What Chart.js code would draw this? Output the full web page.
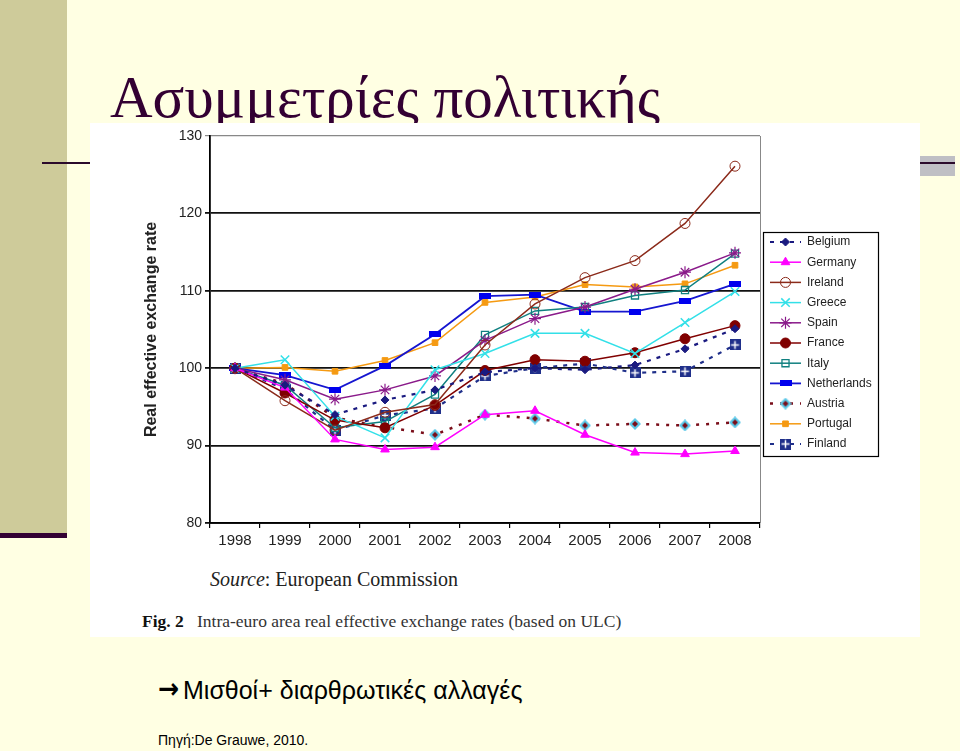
<!DOCTYPE html>
<html>
<head>
<meta charset="utf-8">
<script src="https://cdn.jsdelivr.net/npm/chart.js@4.4.1/dist/chart.umd.min.js"></script>
<style>
  body { margin: 0; background: #FFFFE3; }
  #slide { position: relative; width: 960px; height: 751px; overflow: hidden; background: #FFFFE3; }
  .abs { position: absolute; }
  #bar { left: 0; top: 0; width: 67px; height: 533px; background: #CECB9A; }
  #barline { left: 0; top: 533px; width: 67px; height: 5px; background: #330033; }
  #greybox { left: 920px; top: 156px; width: 35px; height: 20px; background: #BFBFC4; }
  #rule { left: 42px; top: 162px; width: 913px; height: 2px; background: #2B0A2B; }
  #title { left: 110px; top: 68px; margin: 0; font: 59px/1 "Liberation Serif", "Times New Roman", serif; color: #330033; font-weight: normal; white-space: nowrap; }
  #paper { left: 90px; top: 123px; width: 830px; height: 514px; background: #fff; }
  #chartBox { position: absolute; left: 0; top: 0; width: 830px; height: 440px; }
  #source { left: 120px; top: 446px; font: 20px/1 "Liberation Serif", serif; color: #222; white-space: nowrap; }
  #fig { left: 52px; top: 490px; font: 17.5px/1 "Liberation Serif", serif; color: #333; white-space: nowrap; }
  #note { left: 183px; top: 678px; font: 25px/1 "Liberation Sans", Arial, sans-serif; color: #000; white-space: nowrap; }
  #arrow { left: 158px; top: 675px; width: 25px; font: bold 28px/1 "DejaVu Sans", sans-serif; color: #000; transform: scaleX(0.9); transform-origin: left center; }
  #ref { left: 158px; top: 733px; font: 14px/1 "Liberation Sans", Arial, sans-serif; color: #000; white-space: nowrap; }
</style>
</head>
<body>
<div id="slide">
  <div id="bar" class="abs"></div>
  <div id="barline" class="abs"></div>
  <div id="greybox" class="abs"></div>
  <div id="rule" class="abs"></div>
  <h1 id="title" class="abs">Ασυμμετρίες πολιτικής</h1>
  <div id="paper" class="abs">
    <div id="chartBox"><canvas id="myChart" width="830" height="440"></canvas></div>
    <div id="source" class="abs"><i>Source</i>: European Commission</div>
    <div id="fig" class="abs"><b style="color:#111">Fig. 2</b>&nbsp;&nbsp; Intra-euro area real effective exchange rates (based on ULC)</div>
  </div>
  <div id="arrow" class="abs">→</div>
  <div id="note" class="abs">Μισθοί+ διαρθρωτικές αλλαγές</div>
  <div id="ref" class="abs">Πηγή:De Grauwe, 2010.</div>
</div>

<script>
const years = ['1998', '1999', '2000', '2001', '2002', '2003', '2004', '2005', '2006', '2007', '2008'];

const belgium     = [100, 97.8, 94.0, 95.9, 97.2, 99.5, 100.0, 99.8, 100.4, 102.5, 105.1];
const germany     = [100, 97.5, 90.8, 89.5, 89.8, 94.0, 94.5, 91.4, 89.1, 88.9, 89.3];
const ireland     = [100, 95.8, 92.0, 94.3, 95.3, 103.0, 108.3, 111.7, 113.9, 118.7, 126.1];
const greece      = [100, 101.1, 93.8, 91.0, 99.8, 101.9, 104.5, 104.5, 101.9, 105.9, 109.9];
const spain       = [100, 98.5, 96.0, 97.2, 99.0, 103.6, 106.4, 107.9, 110.2, 112.4, 114.9];
const france      = [100, 96.8, 93.3, 92.3, 95.2, 99.7, 101.1, 100.9, 102.0, 103.8, 105.5];
const italy       = [100, 97.8, 92.3, 93.1, 96.6, 104.3, 107.4, 107.9, 109.4, 110.1, 114.8];
const netherlands = [100, 99.1, 97.2, 100.3, 104.4, 109.3, 109.5, 107.3, 107.3, 108.7, 110.9];
const austria     = [100, 98.0, 93.6, 92.4, 91.4, 94.0, 93.5, 92.6, 92.8, 92.6, 93.0];
const portugal    = [100, 100.1, 99.6, 101.0, 103.3, 108.5, 109.2, 110.8, 110.5, 110.9, 113.3];
const finland     = [100, 97.3, 92.0, 93.9, 94.8, 99.0, 100.0, 100.6, 99.4, 99.6, 103.0];

const yTicks = [80, 90, 100, 110, 120, 130];

// small marker images for the styles Chart.js does not have
function makeMarker(w, h, draw) {
    const c = document.createElement('canvas');
    c.width = w; c.height = h;
    draw(c.getContext('2d'), w, h);
    return c;
}

const dashMarker = makeMarker(12, 6, (g, w, h) => {
    g.fillStyle = '#0000EE';
    g.fillRect(0, 0, w, h);
});

const crossSquare = makeMarker(11, 11, (g, w, h) => {
    g.fillStyle = '#1F2F8A';
    g.fillRect(0, 0, w, h);
    g.strokeStyle = '#fff';
    g.lineWidth = 1.5;
    g.beginPath();
    g.moveTo(w / 2, 1.5); g.lineTo(w / 2, h - 1.5);
    g.moveTo(1.5, h / 2); g.lineTo(w - 1.5, h / 2);
    g.stroke();
});

const austriaDiamond = makeMarker(12, 12, (g, w, h) => {
    g.fillStyle = '#5CC8E8';
    g.beginPath();
    g.moveTo(6, 0); g.lineTo(12, 6); g.lineTo(6, 12); g.lineTo(0, 6);
    g.closePath(); g.fill();
    g.fillStyle = '#7A0E1A';
    g.beginPath();
    g.moveTo(6, 3); g.lineTo(9, 6); g.lineTo(6, 9); g.lineTo(3, 6);
    g.closePath(); g.fill();
});

function series(label, data, color, style, extra) {
    return Object.assign({
        label: label,
        data: data,
        borderColor: color,
        backgroundColor: color,
        pointBackgroundColor: color,
        pointBorderColor: color,
        borderWidth: 1.5,
        pointStyle: style,
        pointRadius: 4,
        pointBorderWidth: 1,
        tension: 0,
        fill: false
    }, extra || {});
}

const datasets = [
    series('Belgium', belgium, '#1A1A80', 'rectRot', { borderDash: [4, 6], borderWidth: 2.2 }),
    series('Germany', germany, '#FF00FF', 'triangle', { pointRadius: 5 }),
    series('Ireland', ireland, '#8B2A1A', 'circle', { pointBackgroundColor: 'rgba(0,0,0,0)', pointRadius: 5 }),
    series('Greece', greece, '#33E0E8', 'crossRot', { pointRadius: 6, pointBorderWidth: 1.5 }),
    series('Spain', spain, '#8A1A8A', 'star', { pointRadius: 6, pointBorderWidth: 1.2 }),
    series('France', france, '#800000', 'circle', { pointRadius: 5 }),
    series('Italy', italy, '#108080', 'rect', { pointBackgroundColor: 'rgba(0,0,0,0)', pointRadius: 5, pointBorderWidth: 1.3 }),
    series('Netherlands', netherlands, '#1515D0', dashMarker, { borderWidth: 1.8 }),
    series('Austria', austria, '#7A0E1A', austriaDiamond, { borderDash: [3, 7], borderWidth: 2.5 }),
    series('Portugal', portugal, '#F59A12', 'rect', { pointRadius: 4 }),
    series('Finland', finland, '#1F2F8A', crossSquare, { borderDash: [4, 6], borderWidth: 2.2 })
];

// legend box drawn as in the original figure: line sample + marker + name
const boxLegend = {
    id: 'boxLegend',
    afterDraw(chart) {
        const ctx = chart.ctx;
        const area = chart.chartArea;
        ctx.save();
        // grey frame on the right of the plot
        ctx.strokeStyle = '#888';
        ctx.lineWidth = 1;
        ctx.beginPath();
        ctx.moveTo(area.right + 0.5, area.top);
        ctx.lineTo(area.right + 0.5, area.bottom);
        ctx.stroke();

        const bx = 673, by = 109, bw = 115, bh = 224;
        ctx.fillStyle = '#fff';
        ctx.fillRect(bx, by, bw, bh);
        ctx.strokeStyle = '#000';
        ctx.lineWidth = 1.2;
        ctx.strokeRect(bx + 0.5, by + 0.5, bw, bh);

        chart.data.datasets.forEach((ds, i) => {
            const y = by + 10 + i * 20.2;
            ctx.strokeStyle = ds.borderColor;
            ctx.lineWidth = ds.borderWidth;
            ctx.setLineDash(ds.borderDash || []);
            ctx.beginPath();
            ctx.moveTo(680, y);
            ctx.lineTo(711, y);
            ctx.stroke();
            ctx.setLineDash([]);
            ctx.fillStyle = ds.pointBackgroundColor;
            ctx.strokeStyle = ds.pointBorderColor;
            ctx.lineWidth = ds.pointBorderWidth;
            Chart.helpers.drawPoint(ctx, {
                pointStyle: ds.pointStyle,
                radius: ds.pointRadius,
                borderWidth: ds.pointBorderWidth,
                rotation: 0
            }, 695.5, y);
            ctx.fillStyle = '#222';
            ctx.font = '12px "Liberation Sans", Arial, sans-serif';
            ctx.textBaseline = 'middle';
            ctx.textAlign = 'left';
            ctx.fillText(ds.label, 717, y);
        });
        ctx.restore();
    }
};

const ctx = document.getElementById('myChart').getContext('2d');
const myChart = new Chart(ctx, {
    type: 'line',
    data: { labels: years, datasets: datasets },
    plugins: [boxLegend],
    options: {
        responsive: false,
        animation: false,
        layout: { padding: { left: 0, right: 160, top: 13, bottom: 0 } },
        plugins: { legend: { display: false }, tooltip: { enabled: false } },
        scales: {
            x: {
                offset: true,
                grid: { offset: true, drawOnChartArea: false, color: '#000', tickLength: 5, lineWidth: 1.2 },
                border: { color: '#000', width: 1.8 },
                ticks: { color: '#222', padding: 4, font: { family: '"Liberation Sans", Arial', size: 15 } },
                afterFit(scale) { scale.height = 40; }
            },
            y: {
                min: 80,
                max: 130,
                afterBuildTicks(scale) { scale.ticks = yTicks.map(v => ({ value: v })); },
                grid: {
                    color: c => (c.tick && c.tick.value === 130 ? '#888' : '#111'),
                    lineWidth: c => (c.tick && c.tick.value === 130 ? 1.2 : 1.8),
                    tickLength: 5
                },
                border: { color: '#000', width: 1.8 },
                ticks: { color: '#222', padding: 3, font: { family: '"Liberation Sans", Arial', size: 14 } },
                title: {
                    display: true,
                    text: 'Real effective exchange rate',
                    color: '#222',
                    font: { family: '"Liberation Sans", Arial', size: 16, weight: 'bold' },
                    padding: { top: 52, bottom: 0 }
                },
                afterFit(scale) { scale.width = 120; }
            }
        }
    }
});
</script>
</body>
</html>
